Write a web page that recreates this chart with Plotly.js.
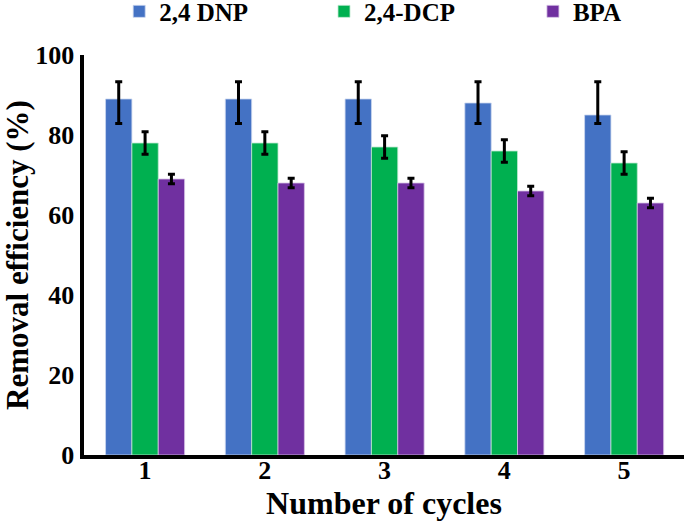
<!DOCTYPE html>
<html>
<head>
<meta charset="utf-8">
<script src="https://cdn.plot.ly/plotly-3.0.1.min.js"></script>
<style>html,body{margin:0;padding:0;background:#fff;}#chart{width:685px;height:527px;}</style>
</head>
<body>
<div id="chart"></div>
<script>
const cycles = ["1", "2", "3", "4", "5"];
const dnp = [89, 89, 89, 88, 85];
const dnpErrPlus = [4.3, 4.3, 4.3, 5.3, 8.3];
const dnpErrMinus = [6.1, 6.1, 6.1, 5.1, 2.1];
const dcp = [78, 78, 77, 76, 73];
const dcpErr = [2.8, 2.8, 2.8, 2.8, 2.8];
const bpa = [69, 68, 68, 66, 63];
const bpaErr = [1.2, 1.2, 1.2, 1.2, 1.2];
const yTicks = [0, 20, 40, 60, 80, 100];

function errStyle(plus, minus) {
  return {type: 'data', symmetric: minus ? false : true, array: plus, arrayminus: minus || plus,
          color: '#000', thickness: 3, width: 3.5, visible: true};
}

const traces = [
  {type: 'bar', name: '2,4 DNP', x: cycles, y: dnp, legend: 'legend',
   marker: {color: '#4472C4', line: {color: '#c9d6ef', width: 0.8}},
   error_y: errStyle(dnpErrPlus, dnpErrMinus)},
  {type: 'bar', name: '2,4-DCP', x: cycles, y: dcp, legend: 'legend2',
   marker: {color: '#00B050', line: {color: '#bfe9d0', width: 0.8}},
   error_y: errStyle(dcpErr)},
  {type: 'bar', name: 'BPA', x: cycles, y: bpa, legend: 'legend3',
   marker: {color: '#7030A0', line: {color: '#d7c3e6', width: 0.8}},
   error_y: errStyle(bpaErr)}
];

const fam = '"Liberation Serif", "Times New Roman", serif';

function leg(xc) {
  return {orientation: 'h', xref: 'container', yref: 'container', x: xc, xanchor: 'left',
          y: 0.978, yanchor: 'middle',
          font: {family: fam, size: 25, color: '#000', weight: 'bold'},
          bgcolor: 'rgba(0,0,0,0)'};
}

const layout = {
  width: 685, height: 527,
  margin: {l: 84, r: 1, t: 55, b: 72},
  paper_bgcolor: '#fff', plot_bgcolor: '#fff',
  font: {family: fam, color: '#000'},
  barmode: 'group', bargap: 0.34, bargroupgap: 0,
  showlegend: true,
  legend: leg(0.174),
  legend2: leg(0.473),
  legend3: leg(0.778),
  xaxis: {type: 'category', range: [-0.51, 4.5], showline: true, linecolor: '#000', linewidth: 4,
          showgrid: false, zeroline: false, ticks: '', ticklabelstandoff: -11,
          tickfont: {family: fam, size: 26, color: '#000', weight: 'bold'},
          title: {text: '<b>Number of cycles</b>', standoff: 2,
                  font: {family: fam, size: 32, color: '#000'}}},
  yaxis: {range: [0, 100], tickvals: yTicks, ticktext: yTicks.map(String),
          showline: true, linecolor: '#000', linewidth: 4.5,
          showgrid: false, zeroline: false, ticks: '',
          tickfont: {family: fam, size: 26, color: '#000', weight: 'bold'},
          title: {text: '<b>Removal efficiency (%)</b>', standoff: 9,
                  font: {family: fam, size: 31, color: '#000'}}}
};

Plotly.newPlot('chart', traces, layout, {displayModeBar: false, staticPlot: true});
</script>
</body>
</html>
